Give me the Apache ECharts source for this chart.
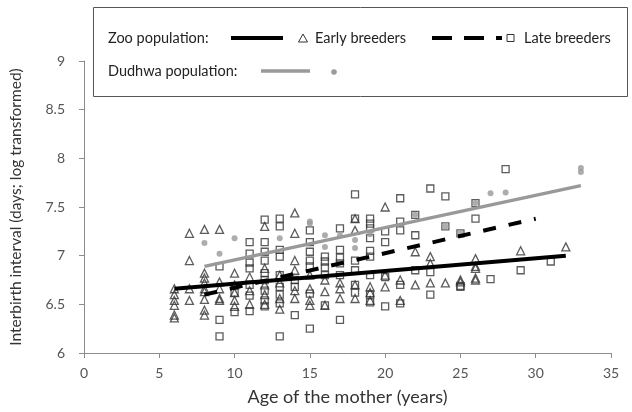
<!DOCTYPE html>
<html>
<head>
<meta charset="utf-8">
<script src="https://cdn.jsdelivr.net/npm/echarts@6/dist/echarts.min.js"></script>
<style>html,body{margin:0;padding:0;background:#fff}#c{width:632px;height:412px}</style>
</head>
<body>
<div id="c"></div>
<script>
// ---- data (age in years, log interbirth interval) ----
var xTicks = [0, 5, 10, 15, 20, 25, 30, 35];
var yTicks = [6, 6.5, 7, 7.5, 8, 8.5, 9];

var earlyBreeders = [
  [6,6.66],[6,6.54],[6,6.49],[6,6.39],[6,6.36],[6,6.60],
  [7,7.23],[7,6.95],[7,6.54],[7,6.66],
  [8,7.27],[8,6.82],[8,6.77],[8,6.72],[8,6.66],[8,6.63],[8,6.55],[8,6.44],[8,6.39],
  [9,7.27],[9,6.73],[9,6.66],[9,6.56],[9,6.54],
  [10,6.82],[10,6.70],[10,6.62],[10,6.54],[10,6.48],
  [11,6.78],[11,6.64],[11,6.50],
  [12,7.30],[12,6.87],[12,6.70],[12,6.60],[12,6.50],
  [13,6.80],[13,6.72],[13,6.56],[13,6.45],
  [14,7.44],[14,7.23],[14,6.95],[14,6.85],[14,6.64],[14,6.56],
  [15,6.80],[15,6.66],[15,6.54],[15,6.49],
  [16,6.75],[16,6.63],[16,6.49],
  [17,6.72],[17,6.66],[17,6.56],
  [18,7.38],[18,7.26],[18,6.70],[18,6.56],
  [19,6.68],[19,6.62],[19,6.54],
  [20,7.50],[20,6.80],[20,6.68],
  [21,6.75],[21,6.54],
  [22,7.04],[22,6.70],
  [23,6.99],[23,6.92],[23,6.72],
  [24,6.72],
  [25,6.75],[25,6.73],
  [26,6.97],[26,6.89],[26,6.87],[26,6.77],[26,6.75],
  [29,7.05],
  [32,7.09]
];

var lateBreeders = [
  [9,6.89],[9,6.34],[9,6.17],
  [10,6.62],[10,6.42],
  [11,7.14],[11,7.02],[11,6.93],[11,6.87],[11,6.70],[11,6.59],[11,6.43],
  [12,7.37],[12,7.14],[12,7.04],[12,6.95],[12,6.82],[12,6.75],[12,6.64],[12,6.54],[12,6.48],
  [13,7.38],[13,7.30],[13,7.06],[13,6.99],[13,6.80],[13,6.68],[13,6.60],[13,6.51],[13,6.17],
  [14,6.75],[14,6.68],[14,6.39],
  [15,7.26],[15,7.14],[15,7.04],[15,6.95],[15,6.89],[15,6.61],[15,6.25],
  [16,6.99],[16,6.94],[16,6.88],[16,6.80],[16,6.49],
  [17,7.28],[17,7.06],[17,6.98],[17,6.92],[17,6.80],[17,6.34],
  [18,7.63],[18,7.38],[18,6.95],[18,6.85],[18,6.70],[18,6.62],
  [19,7.38],[19,7.33],[19,7.28],[19,7.18],[19,7.05],[19,6.99],[19,6.80],[19,6.60],[19,6.52],
  [20,7.25],[20,7.14],[20,6.78],[20,6.48],
  [21,7.59],[21,7.35],[21,7.26],[21,6.70],[21,6.51],
  [22,7.42],[22,7.21],[22,6.85],
  [23,7.69],[23,6.83],[23,6.60],
  [24,7.61],[24,7.30],
  [25,7.23],[25,6.69],[25,6.68],
  [26,7.54],[26,7.38],
  [27,6.76],
  [28,7.89],
  [29,6.85],
  [31,6.94]
];

var dudhwa = [
  [8,7.13],[9,7.02],[10,7.18],[13,7.18],[15,7.33],[15,7.35],[16,7.21],[16,7.09],
  [17,7.21],[18,7.16],[18,7.08],[19,7.22],[22,7.42],[24,7.30],[25,7.23],
  [26,7.54],[27,7.64],[28,7.65],[33,7.86],[33,7.90]
];

var earlyFit = [[6,6.66],[32,7.00]];
var lateFit = [[8,6.60],[30,7.38]];
var dudhwaFit = [[8,6.89],[33,7.72]];

// ---- chart ----
var chart = echarts.init(document.getElementById('c'), null, {renderer:'canvas'});
var FONT = 'Lato, "Open Sans", sans-serif';
var LF = '14.5px ' + FONT;
var legendY1 = 38, legendY2 = 71;
chart.setOption({
  animation: false,
  backgroundColor: '#fff',
  textStyle: {fontFamily: FONT},
  grid: {left: 83, right: 21, top: 61, bottom: 59},
  xAxis: {
    type: 'value', min: xTicks[0], max: xTicks[xTicks.length-1], interval: 5,
    name: 'Age of the mother (years)', nameLocation: 'middle', nameGap: 35,
    nameTextStyle: {fontSize: 18, color: '#333', fontFamily: FONT},
    axisLine: {show: true, lineStyle: {color: '#8c8c8c'}},
    axisTick: {show: true, length: 5, lineStyle: {color: '#8c8c8c'}},
    axisLabel: {fontSize: 14, color: '#555', margin: 13, fontFamily: FONT},
    splitLine: {show: false}
  },
  yAxis: {
    type: 'value', min: yTicks[0], max: yTicks[yTicks.length-1], interval: 0.5,
    name: 'Interbirth interval (days; log transformed)', nameLocation: 'middle', nameGap: 60,
    nameTextStyle: {fontSize: 15.5, color: '#333', fontFamily: FONT},
    axisLine: {show: true, lineStyle: {color: '#8c8c8c'}},
    axisTick: {show: true, length: 5, lineStyle: {color: '#8c8c8c'}},
    axisLabel: {fontSize: 14, color: '#555', margin: 19, fontFamily: FONT},
    splitLine: {show: false}
  },
  series: [
    {type: 'scatter', name: 'Early breeders', data: earlyBreeders, symbol: 'triangle', symbolSize: 8,
     itemStyle: {color: 'rgba(255,255,255,0)', borderColor: '#333', borderWidth: 1.3}, z: 2},
    {type: 'scatter', name: 'Late breeders', data: lateBreeders, symbol: 'rect', symbolSize: 7,
     itemStyle: {color: 'rgba(255,255,255,0)', borderColor: '#333', borderWidth: 1.3}, z: 2},
    {type: 'scatter', name: 'Dudhwa', data: dudhwa, symbol: 'circle', symbolSize: 6,
     itemStyle: {color: '#999'}, z: 2},
    {type: 'line', data: dudhwaFit, showSymbol: false, lineStyle: {color: '#999', width: 3.5}, z: 3},
    {type: 'line', data: lateFit, showSymbol: false, lineStyle: {color: '#000', width: 4, type: [13, 13], cap: 'butt'}, z: 3},
    {type: 'line', data: earlyFit, showSymbol: false, lineStyle: {color: '#000', width: 4}, z: 4}
  ],
  graphic: [
    {type: 'rect', shape: {x: 93.5, y: 7.5, width: 534, height: 89}, style: {fill: '#fff', stroke: '#555', lineWidth: 1}, z: 10},
    {type: 'text', x: 108, y: legendY1, style: {text: 'Zoo population:', font: LF, fill: '#222', textVerticalAlign: 'middle'}, z: 11},
    {type: 'line', shape: {x1: 231, y1: legendY1, x2: 283, y2: legendY1}, style: {stroke: '#000', lineWidth: 4}, z: 11},
    {type: 'polygon', shape: {points: [[303, legendY1-4], [307.5, legendY1+4], [298.5, legendY1+4]]}, style: {fill: 'none', stroke: '#333', lineWidth: 1}, z: 11},
    {type: 'text', x: 315, y: legendY1, style: {text: 'Early breeders', font: LF, fill: '#222', textVerticalAlign: 'middle'}, z: 11},
    {type: 'line', shape: {x1: 432, y1: legendY1, x2: 502, y2: legendY1}, style: {stroke: '#000', lineWidth: 4, lineDash: [20, 12]}, z: 11},
    {type: 'rect', shape: {x: 507, y: legendY1-3.5, width: 7, height: 7}, style: {fill: 'none', stroke: '#333', lineWidth: 1}, z: 11},
    {type: 'text', x: 524, y: legendY1, style: {text: 'Late breeders', font: LF, fill: '#222', textVerticalAlign: 'middle'}, z: 11},
    {type: 'text', x: 108, y: legendY2, style: {text: 'Dudhwa population:', font: LF, fill: '#222', textVerticalAlign: 'middle'}, z: 11},
    {type: 'line', shape: {x1: 261, y1: legendY2, x2: 310, y2: legendY2}, style: {stroke: '#999', lineWidth: 3.5}, z: 11},
    {type: 'circle', shape: {cx: 334, cy: legendY2+1, r: 2.8}, style: {fill: '#999'}, z: 11}
  ]
});
</script>
</body>
</html>
